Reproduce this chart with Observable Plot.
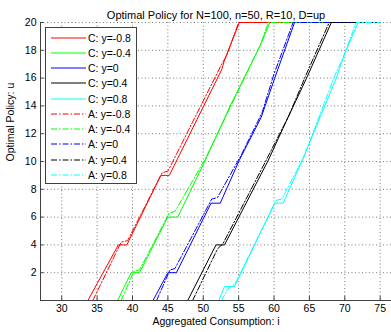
<!DOCTYPE html>
<html>
<head>
<meta charset="utf-8">
<script src="https://cdn.jsdelivr.net/npm/d3@7"></script>
<script src="https://cdn.jsdelivr.net/npm/@observablehq/plot@0.6"></script>
<style>
  html, body { margin: 0; padding: 0; background: #fff; }
  #wrap { position: relative; width: 391px; height: 332px; font-family: "Liberation Sans", Arial, sans-serif; }
  #legend { position: absolute; left: 45px; top: 27px; width: 90px; height: 155px; background: #fff; border: 1px solid #404040; }
  #legend .item { position: absolute; left: 0; height: 14px; font-size: 10.5px; color: #000; white-space: nowrap; }
  #legend svg { position: absolute; left: 5px; top: 0; }
  #legend span { position: absolute; left: 42px; top: 0; line-height: 14px; }
</style>
</head>
<body>
<div id="wrap"></div>
<script>
// ---- data ----
const title = "Optimal Policy for N=100, n=50, R=10, D=up";
const xLabel = "Aggregated Consumption: i";
const yLabel = "Optimal Policy: u";
const xTicks = [30, 35, 40, 45, 50, 55, 60, 65, 70, 75];
const yTicks = [2, 4, 6, 8, 10, 12, 14, 16, 18, 20];
const seriesNames = ["C: y=-0.8", "C: y=-0.4", "C: y=0", "C: y=0.4", "C: y=0.8",
                     "A: y=-0.8", "A: y=-0.4", "A: y=0", "A: y=0.4", "A: y=0.8"];
const seriesColors = ["#ff0000", "#00ff00", "#0000ff", "#000000", "#00ffff",
                      "#ff0000", "#00ff00", "#0000ff", "#000000", "#00ffff"];
const seriesDashed = [false, false, false, false, false, true, true, true, true, true];

// C curves: [i, u]
const cYm08 = [[33.7,0],[38.0,4],[39.2,4],[44.0,9],[45.2,9],[52.6,16.6],[53.0,17.3],[55.1,20],[75,20]];
const cYm04 = [[37.9,0],[39.8,2],[41.0,2],[45.0,6],[46.4,6],[50.2,10],[53.9,14.1],[58.2,18.5],[59.4,20],[75,20]];
const cY0   = [[42.9,0],[45.0,2],[46.2,2],[51.1,7],[52.4,7],[55.1,10.1],[58.2,13.2],[60.1,16],[62.9,20],[75,20]];
const cYp04 = [[47.8,0],[51.8,4],[53.0,4],[59.2,10.1],[62.0,13.2],[64.6,16],[68.1,20],[75,20]];
const cYp08 = [[52.2,0],[53.0,1],[54.4,1],[60.1,7],[61.3,7],[64.0,10.1],[68.8,16],[70.0,17.8],[71.9,20],[75,20]];
// A curves: [i, u]
const aYm08 = [[34.4,0],[38.4,4.2],[39.3,4.3],[44.2,9.2],[45.0,9.3],[52.6,17.0],[53.3,17.6],[55.0,20],[75,20]];
const aYm04 = [[38.4,0],[40.2,2.1],[41.0,2.2],[45.2,6.3],[46.0,6.4],[50.4,10.3],[54.1,14.2],[58.0,18.3],[59.2,20],[75,20]];
const aY0   = [[43.4,0],[45.3,2.2],[46.0,2.3],[51.2,7.3],[52.0,7.4],[55.3,10.4],[58.3,13.5],[60.0,16.3],[62.7,20],[75,20]];
const aYp04 = [[48.5,0],[52.0,3.7],[52.8,4.1],[59.0,10.2],[62.1,13.3],[64.5,16.2],[67.8,20],[75,20]];
const aYp08 = [[52.6,0],[53.4,0.8],[54.5,1.2],[60.3,7.2],[61.1,7.3],[64.2,10.3],[68.6,16.2],[69.8,17.5],[71.6,20],[75,20]];
const seriesPoints = [cYm08, cYm04, cY0, cYp04, cYp08, aYm08, aYm04, aY0, aYp04, aYp08];

// ---- chart ----
const dashPattern = "6,2,1.5,2";
const gridStyle = {stroke: "#7a7a7a", strokeDasharray: "1,2.5", strokeWidth: 1};

const lineMarks = seriesPoints.map((pts, k) =>
  Plot.line(pts, {x: d => d[0], y: d => d[1], stroke: seriesColors[k], strokeWidth: 1,
    strokeDasharray: seriesDashed[k] ? dashPattern : null})
);

const chart = Plot.plot({
  width: 391,
  height: 332,
  marginLeft: 40,
  marginRight: 0,
  marginTop: 22,
  marginBottom: 32,
  style: {fontFamily: "'Liberation Sans', Arial, sans-serif", fontSize: "10px", background: "#fff", color: "#000"},
  x: {domain: [27, 76.6], ticks: xTicks, label: null},
  y: {domain: [0, 20], ticks: yTicks, label: null},
  marks: [
    Plot.ruleX(xTicks, {...gridStyle}),
    Plot.ruleY(yTicks, {...gridStyle}),
    Plot.ruleX(xTicks, {y1: 0, y2: 0.3, stroke: "#404040"}),
    Plot.ruleY(yTicks, {x1: 27, x2: 27.5, stroke: "#404040"}),
    ...lineMarks,
    Plot.ruleX([27], {stroke: "#404040", strokeWidth: 1}),
    Plot.ruleY([0], {stroke: "#404040", strokeWidth: 1}),
    Plot.axisX(xTicks, {tickSize: 0, tickPadding: 4, fontSize: 10.5, label: null}),
    Plot.axisY(yTicks, {tickSize: 0, tickPadding: 4, fontSize: 10.5, label: null}),
    Plot.text([xLabel], {frameAnchor: "bottom", dy: 24, fontSize: 10.5}),
    Plot.text([yLabel], {frameAnchor: "left", dx: -30, rotate: -90, fontSize: 10.5}),
    Plot.text([title], {frameAnchor: "top", dx: 0, dy: -11, fontSize: 11})
  ]
});

const wrap = document.getElementById("wrap");
wrap.appendChild(chart);

// ---- legend ----
const legend = document.createElement("div");
legend.id = "legend";
seriesNames.forEach((name, k) => {
  const item = document.createElement("div");
  item.className = "item";
  item.style.top = (2.5 + k * 15.25) + "px";
  item.style.width = "88px";
  const ns = "http://www.w3.org/2000/svg";
  const svg = document.createElementNS(ns, "svg");
  svg.setAttribute("width", 36);
  svg.setAttribute("height", 14);
  const ln = document.createElementNS(ns, "line");
  ln.setAttribute("x1", 0); ln.setAttribute("x2", 35);
  ln.setAttribute("y1", 7); ln.setAttribute("y2", 7);
  ln.setAttribute("stroke", seriesColors[k]);
  ln.setAttribute("stroke-width", 1);
  if (seriesDashed[k]) ln.setAttribute("stroke-dasharray", dashPattern);
  svg.appendChild(ln);
  item.appendChild(svg);
  const sp = document.createElement("span");
  sp.textContent = name;
  item.appendChild(sp);
  legend.appendChild(item);
});
wrap.appendChild(legend);
</script>
</body>
</html>
